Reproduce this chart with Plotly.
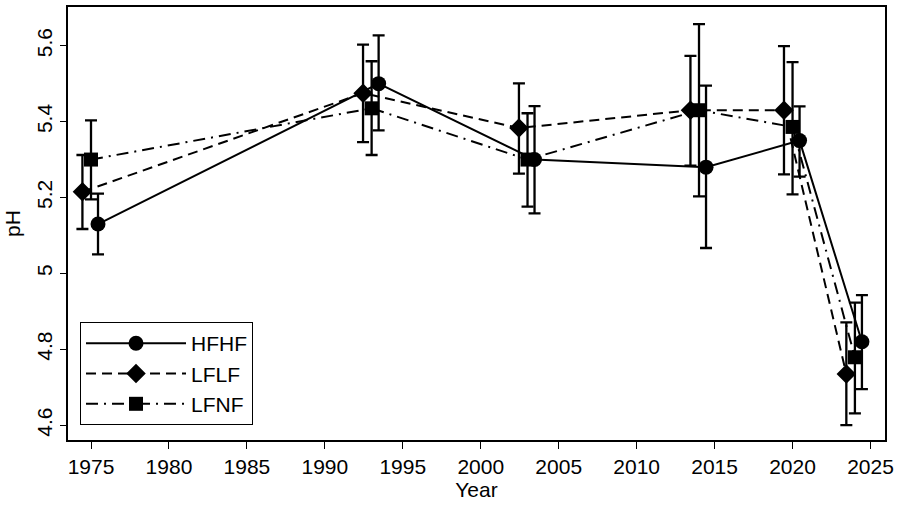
import plotly.graph_objects as go

# Sampling years (each series is drawn slightly dodged around these years)
years = [1975, 1993, 2003, 2014, 2020, 2024]

series_names = ["HFHF", "LFLF", "LFNF"]

hfhf_mean = [5.13, 5.50, 5.30, 5.28, 5.35, 4.82]
hfhf_low = [5.05, 5.377, 5.158, 5.067, 5.255, 4.695]
hfhf_high = [5.21, 5.627, 5.441, 5.495, 5.44, 4.943]

lflf_mean = [5.215, 5.475, 5.383, 5.43, 5.43, 4.735]
lflf_low = [5.117, 5.346, 5.263, 5.284, 5.261, 4.60]
lflf_high = [5.312, 5.603, 5.501, 5.573, 5.599, 4.871]

lfnf_mean = [5.30, 5.435, 5.30, 5.43, 5.386, 4.779]
lfnf_low = [5.195, 5.312, 5.176, 5.203, 5.208, 4.631]
lfnf_high = [5.403, 5.559, 5.422, 5.657, 5.557, 4.923]

x_ticks = [1975, 1980, 1985, 1990, 1995, 2000, 2005, 2010, 2015, 2020, 2025]
y_ticks = [4.6, 4.8, 5.0, 5.2, 5.4, 5.6]
y_tick_text = ["4.6", "4.8", "5", "5.2", "5.4", "5.6"]

NARROW = "Liberation Sans Narrow, Arial Narrow, Liberation Sans, Arial, sans-serif"
REG = "Liberation Sans, Arial, sans-serif"

styles = {
    "HFHF": dict(offset=0.45, dash="solid", symbol="circle", size=15),
    "LFLF": dict(offset=-0.55, dash="10px,6px", symbol="diamond", size=15),
    "LFNF": dict(offset=0.0, dash="12px,6px,2px,6px", symbol="square", size=14),
}

data = {
    "HFHF": (hfhf_mean, hfhf_low, hfhf_high),
    "LFLF": (lflf_mean, lflf_low, lflf_high),
    "LFNF": (lfnf_mean, lfnf_low, lfnf_high),
}

fig = go.Figure()
for name in series_names:
    mean, low, high = data[name]
    st = styles[name]
    xs = [y + st["offset"] for y in years]
    fig.add_trace(go.Scatter(
        x=xs, y=mean, name=name, mode="lines+markers",
        line=dict(color="black", width=2, dash=st["dash"]),
        marker=dict(symbol=st["symbol"], size=st["size"], color="black"),
        error_y=dict(type="data", symmetric=False,
                     array=[h - m for h, m in zip(high, mean)],
                     arrayminus=[m - l for m, l in zip(mean, low)],
                     color="black", thickness=2.3, width=6),
    ))

fig.update_layout(
    width=902, height=508,
    margin=dict(l=68, r=17, t=5, b=68),
    paper_bgcolor="white", plot_bgcolor="white",
    showlegend=True,
    legend=dict(
        x=0.0147, y=0.0345, xanchor="left", yanchor="bottom",
        bordercolor="black", borderwidth=1, bgcolor="white",
        font=dict(family=REG, size=21, color="black"),
        itemwidth=100, tracegroupgap=0,
    ),
    xaxis=dict(
        range=[1973.525, 2025.93], tickvals=x_ticks,
        ticktext=[str(t) for t in x_ticks],
        showgrid=False, zeroline=False,
        showline=True, linecolor="black", linewidth=1.5, mirror=True,
        ticks="outside", ticklen=7, tickwidth=1.2, tickcolor="black",
        tickfont=dict(family=NARROW, size=21, color="black"),
        title=dict(text="Year", font=dict(family=NARROW, size=21, color="black"), standoff=4),
    ),
    yaxis=dict(
        range=[4.561, 5.702], tickvals=y_ticks, ticktext=y_tick_text,
        showgrid=False, zeroline=False,
        showline=True, linecolor="black", linewidth=1.5, mirror=True,
        ticks="outside", ticklen=6, tickwidth=1.2, tickcolor="black",
        tickangle=-90,
        tickfont=dict(family=NARROW, size=21, color="black"),
        title=dict(text="pH", font=dict(family=NARROW, size=21, color="black"), standoff=6),
    ),
)

fig.write_html("out.html")
